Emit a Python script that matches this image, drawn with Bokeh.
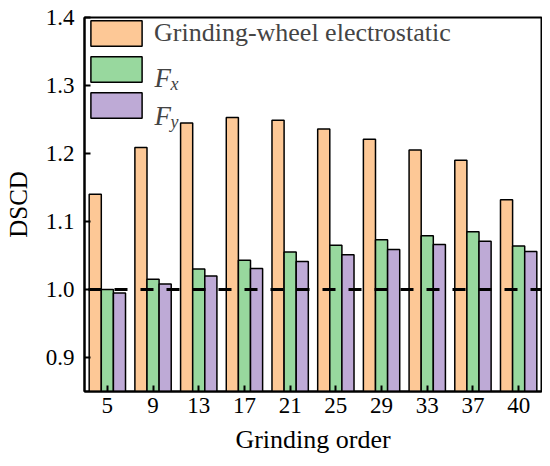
from bokeh.plotting import figure
from bokeh.models import (FactorRange, Range1d, Span, Legend, LegendItem, Label,
                          FixedTicker, NumeralTickFormatter, ColumnDataSource)
from bokeh.transform import dodge
from bokeh.core.properties import value
from bokeh.embed import file_html
from bokeh.resources import INLINE

# ---- data ----
orders = ["5", "9", "13", "17", "21", "25", "29", "33", "37", "40"]
electrostatic = [1.140, 1.209, 1.245, 1.253, 1.249, 1.236, 1.221, 1.205, 1.190, 1.132]
fx = [1.000, 1.015, 1.030, 1.043, 1.055, 1.065, 1.073, 1.079, 1.085, 1.064]
fy = [0.995, 1.008, 1.020, 1.031, 1.041, 1.051, 1.059, 1.066, 1.071, 1.056]
y_ticks = [0.9, 1.0, 1.1, 1.2, 1.3, 1.4]
ref_level = 1.0
legend_first = "Grinding-wheel electrostatic"

FONT = "Liberation Serif"
C_ORANGE = "#FDC896"
C_GREEN = "#98D89E"
C_PURPLE = "#BEAAD6"

src = ColumnDataSource(dict(order=orders, e=electrostatic, fx=fx, fy=fy))

p = figure(width=542, height=458, output_backend="svg", toolbar_location=None,
           x_range=FactorRange(factors=orders, range_padding=0),
           y_range=Range1d(0.85, 1.4),
           min_border_left=84, min_border_right=1, min_border_top=17, min_border_bottom=67)

bw = 0.265
r1 = p.vbar(x=dodge("order", -bw, range=p.x_range), top="e", bottom=0.85, width=bw, source=src,
            fill_color=C_ORANGE, line_color="black", line_width=1.5)
r2 = p.vbar(x=dodge("order", 0, range=p.x_range), top="fx", bottom=0.85, width=bw, source=src,
            fill_color=C_GREEN, line_color="black", line_width=1.5)
r3 = p.vbar(x=dodge("order", bw, range=p.x_range), top="fy", bottom=0.85, width=bw, source=src,
            fill_color=C_PURPLE, line_color="black", line_width=1.5)

p.add_layout(Span(location=ref_level, dimension="width", line_color="black",
                  line_width=3, line_dash="13 13", line_dash_offset=22))

p.xgrid.visible = False
p.ygrid.visible = False
p.outline_line_color = "black"
p.outline_line_width = 2

p.yaxis.ticker = FixedTicker(ticks=y_ticks)
p.yaxis.formatter = NumeralTickFormatter(format="0.0")
p.yaxis.minor_tick_line_color = None

for ax in (p.xaxis[0], p.yaxis[0]):
    ax.axis_line_width = 2
    ax.axis_line_color = "black"
    ax.major_tick_in = 6
    ax.major_tick_out = 0
    ax.major_tick_line_width = 2
    ax.major_tick_line_color = "black"
    ax.major_label_text_font = FONT
    ax.major_label_text_font_size = "23px"
    ax.major_label_text_color = "black"
    ax.axis_label_text_font = FONT
    ax.axis_label_text_font_style = "normal"
    ax.axis_label_text_color = "black"

p.xaxis.axis_label = "Grinding order"
p.yaxis.axis_label = "DSCD"
p.xaxis.axis_label_text_font_size = "26px"
p.yaxis.axis_label_text_font_size = "25px"
p.xaxis.major_label_standoff = 6
p.xaxis.axis_label_standoff = 9
p.yaxis.major_label_standoff = 10
p.yaxis.axis_label_standoff = 11

legend = Legend(items=[LegendItem(label=value(legend_first), renderers=[r1]),
                       LegendItem(label=value(" "), renderers=[r2]),
                       LegendItem(label=value(" "), renderers=[r3])],
                location=(0, 270), margin=0, padding=0, spacing=4,
                glyph_width=64, glyph_height=32, label_standoff=6,
                border_line_alpha=0, background_fill_alpha=0,
                label_text_font=FONT, label_text_font_size="26px")
p.add_layout(legend)

# italic F with subscripts for the force items
for txt, sub, yb, ys in (("F", "x", 314, 308), ("F", "y", 276, 270)):
    p.add_layout(Label(x=70, y=yb, x_units="screen", y_units="screen", text=txt,
                       text_font=FONT, text_font_style="italic", text_font_size="27px",
                       text_baseline="alphabetic"))
    p.add_layout(Label(x=86, y=ys, x_units="screen", y_units="screen", text=sub,
                       text_font=FONT, text_font_style="italic", text_font_size="18px",
                       text_baseline="alphabetic"))

open("out.html", "w").write(file_html(p, INLINE))
